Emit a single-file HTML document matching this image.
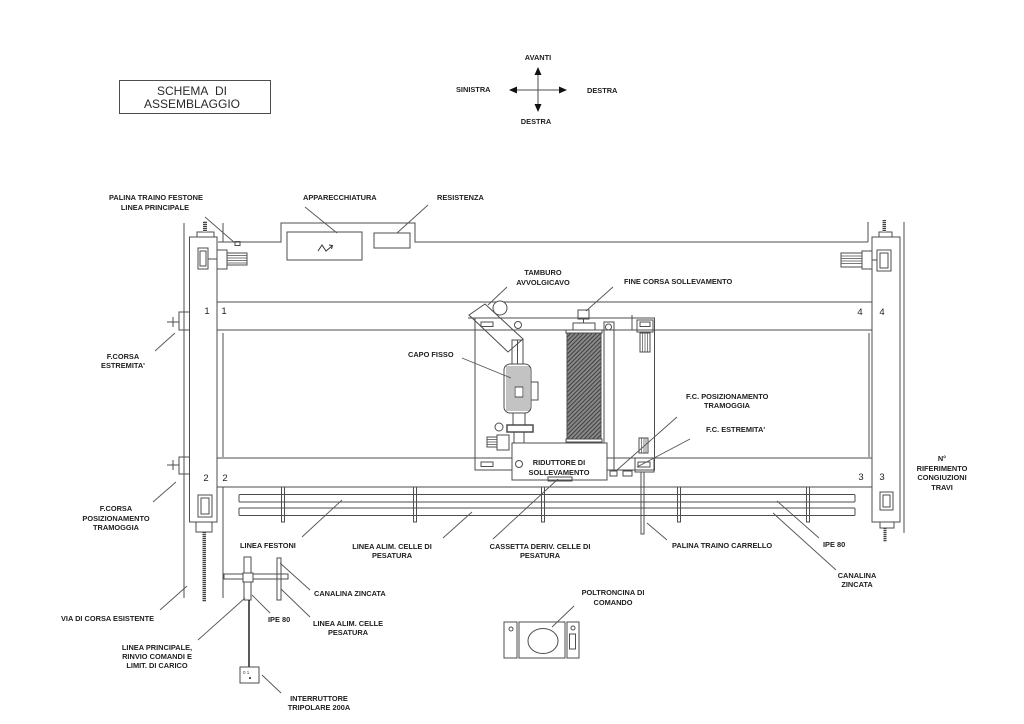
<!DOCTYPE html>
<html><head><meta charset="utf-8"><style>
html,body{margin:0;padding:0;background:#fff;}
svg{display:block;}
.l{font-family:"Liberation Sans",Arial,sans-serif;font-size:7.4px;font-weight:bold;fill:#1e1e1e;}
.n{font-family:"Liberation Sans",Arial,sans-serif;font-size:9.5px;fill:#222;}
</style></head><body>
<svg width="1024" height="724" viewBox="0 0 1024 724" xmlns="http://www.w3.org/2000/svg">
<defs>
<pattern id="hatch" width="3" height="3" patternUnits="userSpaceOnUse" patternTransform="rotate(45)">
<rect width="3" height="3" fill="#888"/><line x1="0" y1="0" x2="0" y2="3" stroke="#222" stroke-width="1.4"/>
</pattern>
<pattern id="rod" width="3" height="2" patternUnits="userSpaceOnUse">
<rect width="3" height="2" fill="#ccc"/><line x1="0" y1="0.5" x2="3" y2="0.5" stroke="#333" stroke-width="0.9"/>
</pattern>
</defs>
<rect width="1024" height="724" fill="#fff"/>

<g stroke="#4d4d4d" stroke-width="1" fill="none">
<!-- title box -->
<rect x="119.5" y="80.5" width="151" height="33"/>
<!-- compass -->
<line x1="514" y1="90" x2="562" y2="90"/>
<line x1="538" y1="72" x2="538" y2="107"/>

<!-- top frame -->
<path d="M218,242 L281,242 L281,223 L415,223 L415,242 L868,242"/>
<rect x="287" y="232" width="75" height="28"/>
<rect x="374" y="233" width="36" height="15"/>
<rect x="235" y="241.5" width="5" height="4"/>
<path d="M318,251 L322,245 L326,251 L332,246" stroke="#333"/>
<path d="M329,245 L332.5,245.5 L331.5,249" stroke="#333"/>

<!-- left rails -->
<line x1="184" y1="223" x2="184" y2="598"/>
<line x1="223" y1="223" x2="223" y2="242"/>
<line x1="223" y1="333" x2="223" y2="457"/>
<line x1="223" y1="487" x2="223" y2="598"/>
<!-- left column -->
<rect x="189.5" y="237" width="27.5" height="285" fill="#fff"/>
<rect x="197" y="232" width="17" height="5"/>
<rect x="196" y="522" width="16" height="10"/>
<!-- left top wheel -->
<rect x="198" y="248" width="10" height="21"/>
<rect x="200" y="251" width="6" height="15"/>
<line x1="208" y1="259" x2="217" y2="259"/>
<rect x="217" y="250" width="10" height="19"/>
<rect x="227" y="253" width="20" height="12"/>
<path d="M227,255.5H247M227,258H247M227,260.5H247M227,263H247" stroke-width="0.7"/>
<!-- left bottom wheel -->
<rect x="198" y="495" width="14" height="22"/>
<rect x="201" y="498" width="8" height="16"/>
<!-- left switches -->
<rect x="179" y="312" width="10.5" height="18"/>
<line x1="167" y1="322" x2="179" y2="322"/>
<line x1="173" y1="317" x2="173" y2="327"/>
<rect x="179" y="457" width="10.5" height="17"/>
<line x1="167" y1="465" x2="179" y2="465"/>
<line x1="173" y1="460" x2="173" y2="470"/>

<!-- beams -->
<line x1="217" y1="302" x2="872" y2="302"/>
<line x1="217" y1="330" x2="872" y2="330"/>
<line x1="217" y1="458" x2="872" y2="458"/>
<line x1="217" y1="487" x2="872" y2="487"/>

<!-- right rails -->
<line x1="868" y1="222" x2="868" y2="242"/>
<line x1="869" y1="333" x2="869" y2="457"/>
<line x1="904" y1="222" x2="904" y2="533"/>
<!-- right column -->
<rect x="872" y="237" width="28" height="285" fill="#fff"/>
<rect x="879" y="232" width="13" height="5"/>
<rect x="880" y="522" width="14" height="6"/>
<rect x="877" y="250" width="14" height="21"/>
<rect x="880" y="253" width="8" height="15"/>
<line x1="872" y1="260" x2="877" y2="260"/>
<rect x="862" y="251" width="10" height="18"/>
<rect x="841" y="253" width="21" height="14"/>
<path d="M841,256H862M841,258.5H862M841,261H862M841,263.5H862" stroke-width="0.7"/>
<rect x="880" y="492" width="13" height="18"/>
<rect x="883" y="495" width="7" height="12"/>

<!-- rail bars -->
<rect x="239" y="494.5" width="616" height="7.5" rx="1"/>
<rect x="239" y="508" width="616" height="7.5" rx="1"/>
<g>
<path d="M281.5,487V522H284.5V487"/>
<path d="M413.5,487V522H416.5V487"/>
<path d="M541.5,487V522H544.5V487"/>
<path d="M677.5,487V522H680.5V487"/>
<path d="M806.5,487V522H809.5V487"/>
</g>

<!-- trolley -->
<line x1="468" y1="318" x2="655" y2="318"/>
<rect x="475" y="318" width="179.5" height="152"/>
<polygon points="469,315 485,304 523,339 508,352" fill="none"/>
<circle cx="500" cy="308" r="7" fill="#fff"/>
<rect x="481" y="322" width="12" height="4.5"/>
<rect x="481" y="462" width="12" height="4.5"/>
<circle cx="518" cy="325" r="3.5"/>
<!-- motor -->
<rect x="512" y="340" width="11" height="25"/>
<line x1="517.5" y1="340" x2="517.5" y2="365"/>
<rect x="504" y="364" width="27" height="49" rx="6" fill="#fff"/>
<path d="M507,366V411M509,366V411M511,366V411M513,366V411M515,366V411M517,366V411M519,366V411M521,366V411M523,366V411M525,366V411M527,366V411M529,366V411" stroke-width="0.7" stroke="#555"/>
<rect x="515" y="387" width="8" height="10" fill="#fff"/>
<rect x="531" y="382" width="7" height="18"/>
<rect x="513" y="413" width="12" height="12"/>
<rect x="507" y="425" width="26" height="7" stroke-width="1.5"/>
<rect x="514" y="432" width="10" height="11"/>
<circle cx="499" cy="427" r="4"/>
<rect x="487" y="437" width="10" height="10"/>
<path d="M487,439.5H497M487,442H497M487,444.5H497" stroke-width="0.7"/>
<rect x="497" y="435" width="12" height="15"/>
<!-- drum -->
<rect x="578" y="310" width="11" height="9"/>
<line x1="583.5" y1="319" x2="583.5" y2="323"/>
<rect x="573" y="323" width="22" height="7"/>
<rect x="566" y="330" width="36" height="3"/>
<rect x="567" y="333" width="34" height="106" fill="url(#hatch)"/>
<rect x="566" y="439" width="36" height="3"/>
<line x1="583.5" y1="442" x2="583.5" y2="445"/>
<!-- long bar -->
<rect x="604" y="322" width="10" height="148"/>
<circle cx="608.5" cy="327" r="3"/>
<line x1="632" y1="315" x2="632" y2="330"/>
<rect x="637" y="320" width="16" height="12"/>
<rect x="640" y="322" width="10" height="4.5"/>
<rect x="640" y="333" width="10" height="19"/>
<path d="M642.5,333V352M645,333V352M647.5,333V352" stroke-width="0.7"/>
<rect x="639" y="438" width="9" height="15"/>
<path d="M641.5,438V453M644,438V453M646,438V453" stroke-width="0.7"/>
<rect x="635" y="458" width="19" height="14"/>
<rect x="638" y="462" width="12" height="5"/>
<rect x="610" y="471" width="7" height="5"/>
<rect x="623" y="471" width="9" height="5"/>
<path d="M641,472V534H644V472"/>
<!-- reducer -->
<rect x="512" y="443" width="95" height="37" fill="#fff"/>
<circle cx="519" cy="464" r="3.5"/>
<rect x="548" y="477" width="24" height="4"/>

<!-- festone assembly -->
<rect x="224" y="574" width="64" height="5"/>
<rect x="244" y="557" width="7" height="43" fill="#fff"/>
<rect x="243" y="573" width="10" height="9" fill="#fff"/>
<rect x="277" y="558" width="4" height="42"/>
<line x1="249" y1="600" x2="249" y2="667" stroke="#222" stroke-width="1.5"/>
<rect x="240" y="667" width="19" height="16"/>

<!-- poltroncina -->
<rect x="504" y="622" width="13" height="36"/>
<rect x="519" y="622" width="46" height="36"/>
<rect x="567" y="622" width="12" height="36"/>
<ellipse cx="543" cy="641" rx="15" ry="12.5"/>
<circle cx="511" cy="629" r="2"/>
<circle cx="573" cy="628" r="2"/>
<rect x="569.5" y="634" width="6" height="15"/>

<!-- leaders -->
<g stroke="#555" stroke-width="0.9">
<line x1="205" y1="217" x2="235" y2="243"/>
<line x1="305" y1="207" x2="337" y2="233"/>
<line x1="428" y1="205" x2="397" y2="233"/>
<line x1="507" y1="287" x2="488" y2="305"/>
<line x1="613" y1="287" x2="586" y2="311"/>
<line x1="462" y1="358" x2="511" y2="378"/>
<line x1="677" y1="417" x2="617" y2="470"/>
<line x1="690" y1="439" x2="637" y2="467"/>
<line x1="155" y1="351" x2="175" y2="333"/>
<line x1="153" y1="502" x2="176" y2="482"/>
<line x1="302" y1="537" x2="342" y2="500"/>
<line x1="443" y1="538" x2="472" y2="512"/>
<line x1="493" y1="539" x2="558" y2="479"/>
<line x1="647" y1="523" x2="667" y2="540"/>
<line x1="777" y1="501" x2="819" y2="538"/>
<line x1="773" y1="513" x2="836" y2="570"/>
<line x1="280" y1="563" x2="310" y2="590"/>
<line x1="281" y1="589" x2="310" y2="617"/>
<line x1="252" y1="595" x2="270" y2="613"/>
<line x1="160" y1="610" x2="187" y2="586"/>
<line x1="198" y1="640" x2="245" y2="598"/>
<line x1="262" y1="675" x2="281" y2="693"/>
<line x1="574" y1="606" x2="552" y2="627"/>
</g>
</g>

<!-- rods -->
<rect x="203" y="221" width="4" height="11" fill="url(#rod)"/>
<rect x="202.5" y="532" width="3.5" height="70" fill="url(#rod)"/>
<rect x="882.5" y="220" width="3.5" height="12" fill="url(#rod)"/>
<rect x="883.5" y="528" width="3" height="14" fill="url(#rod)"/>

<!-- arrowheads -->
<g fill="#111">
<polygon points="509,90 517,86.5 517,93.5"/>
<polygon points="567,90 559,86.5 559,93.5"/>
<polygon points="538,67 534.5,75 541.5,75"/>
<polygon points="538,112 534.5,104 541.5,104"/>
</g>
<circle cx="250" cy="678" r="1" fill="#222"/>
<text x="243" y="674" font-family="Liberation Sans,sans-serif" font-size="4.5" fill="#333">0 1</text>

<!-- title -->
<text x="192" y="95" text-anchor="middle" font-family="Liberation Sans,Arial,sans-serif" font-size="12" fill="#2a2a2a">SCHEMA&#160; DI</text>
<text x="192" y="108" text-anchor="middle" font-family="Liberation Sans,Arial,sans-serif" font-size="12" fill="#2a2a2a">ASSEMBLAGGIO</text>

<!-- compass labels -->
<text class="l" x="538" y="60" text-anchor="middle">AVANTI</text>
<text class="l" x="456" y="92">SINISTRA</text>
<text class="l" x="587" y="93">DESTRA</text>
<text class="l" x="536" y="124" text-anchor="middle">DESTRA</text>

<!-- numbers -->
<text class="n" x="207" y="314" text-anchor="middle">1</text>
<text class="n" x="224" y="314" text-anchor="middle">1</text>
<text class="n" x="206" y="481" text-anchor="middle">2</text>
<text class="n" x="225" y="481" text-anchor="middle">2</text>
<text class="n" x="860" y="315" text-anchor="middle">4</text>
<text class="n" x="882" y="315" text-anchor="middle">4</text>
<text class="n" x="861" y="480" text-anchor="middle">3</text>
<text class="n" x="882" y="480" text-anchor="middle">3</text>

<!-- labels -->
<text class="l" x="156" y="200" text-anchor="middle">PALINA TRAINO FESTONE</text>
<text class="l" x="155" y="210" text-anchor="middle">LINEA PRINCIPALE</text>
<text class="l" x="303" y="200">APPARECCHIATURA</text>
<text class="l" x="437" y="200">RESISTENZA</text>
<text class="l" x="543" y="275" text-anchor="middle">TAMBURO</text>
<text class="l" x="543" y="285" text-anchor="middle">AVVOLGICAVO</text>
<text class="l" x="624" y="284">FINE CORSA SOLLEVAMENTO</text>
<text class="l" x="408" y="357">CAPO FISSO</text>
<text class="l" x="686" y="399">F.C. POSIZIONAMENTO</text>
<text class="l" x="704" y="408">TRAMOGGIA</text>
<text class="l" x="706" y="432">F.C. ESTREMITA'</text>
<text class="l" x="559" y="465" text-anchor="middle">RIDUTTORE DI</text>
<text class="l" x="559" y="475" text-anchor="middle">SOLLEVAMENTO</text>
<text class="l" x="942" y="461" text-anchor="middle">N°</text>
<text class="l" x="942" y="471" text-anchor="middle">RIFERIMENTO</text>
<text class="l" x="942" y="480" text-anchor="middle">CONGIUZIONI</text>
<text class="l" x="942" y="490" text-anchor="middle">TRAVI</text>
<text class="l" x="123" y="359" text-anchor="middle">F.CORSA</text>
<text class="l" x="123" y="368" text-anchor="middle">ESTREMITA'</text>
<text class="l" x="116" y="511" text-anchor="middle">F.CORSA</text>
<text class="l" x="116" y="521" text-anchor="middle">POSIZIONAMENTO</text>
<text class="l" x="116" y="530" text-anchor="middle">TRAMOGGIA</text>
<text class="l" x="240" y="548">LINEA FESTONI</text>
<text class="l" x="392" y="549" text-anchor="middle">LINEA  ALIM. CELLE DI</text>
<text class="l" x="392" y="558" text-anchor="middle">PESATURA</text>
<text class="l" x="540" y="549" text-anchor="middle">CASSETTA DERIV. CELLE DI</text>
<text class="l" x="540" y="558" text-anchor="middle">PESATURA</text>
<text class="l" x="672" y="548">PALINA TRAINO CARRELLO</text>
<text class="l" x="823" y="547">IPE 80</text>
<text class="l" x="857" y="578" text-anchor="middle">CANALINA</text>
<text class="l" x="857" y="587" text-anchor="middle">ZINCATA</text>
<text class="l" x="314" y="596">CANALINA ZINCATA</text>
<text class="l" x="348" y="626" text-anchor="middle">LINEA ALIM. CELLE</text>
<text class="l" x="348" y="635" text-anchor="middle">PESATURA</text>
<text class="l" x="268" y="622">IPE 80</text>
<text class="l" x="61" y="621">VIA DI CORSA ESISTENTE</text>
<text class="l" x="157" y="650" text-anchor="middle">LINEA PRINCIPALE,</text>
<text class="l" x="157" y="659" text-anchor="middle">RINVIO COMANDI E</text>
<text class="l" x="157" y="668" text-anchor="middle">LIMIT. DI CARICO</text>
<text class="l" x="319" y="701" text-anchor="middle">INTERRUTTORE</text>
<text class="l" x="319" y="710" text-anchor="middle">TRIPOLARE 200A</text>
<text class="l" x="613" y="595" text-anchor="middle">POLTRONCINA DI</text>
<text class="l" x="613" y="605" text-anchor="middle">COMANDO</text>
</svg>
</body></html>
